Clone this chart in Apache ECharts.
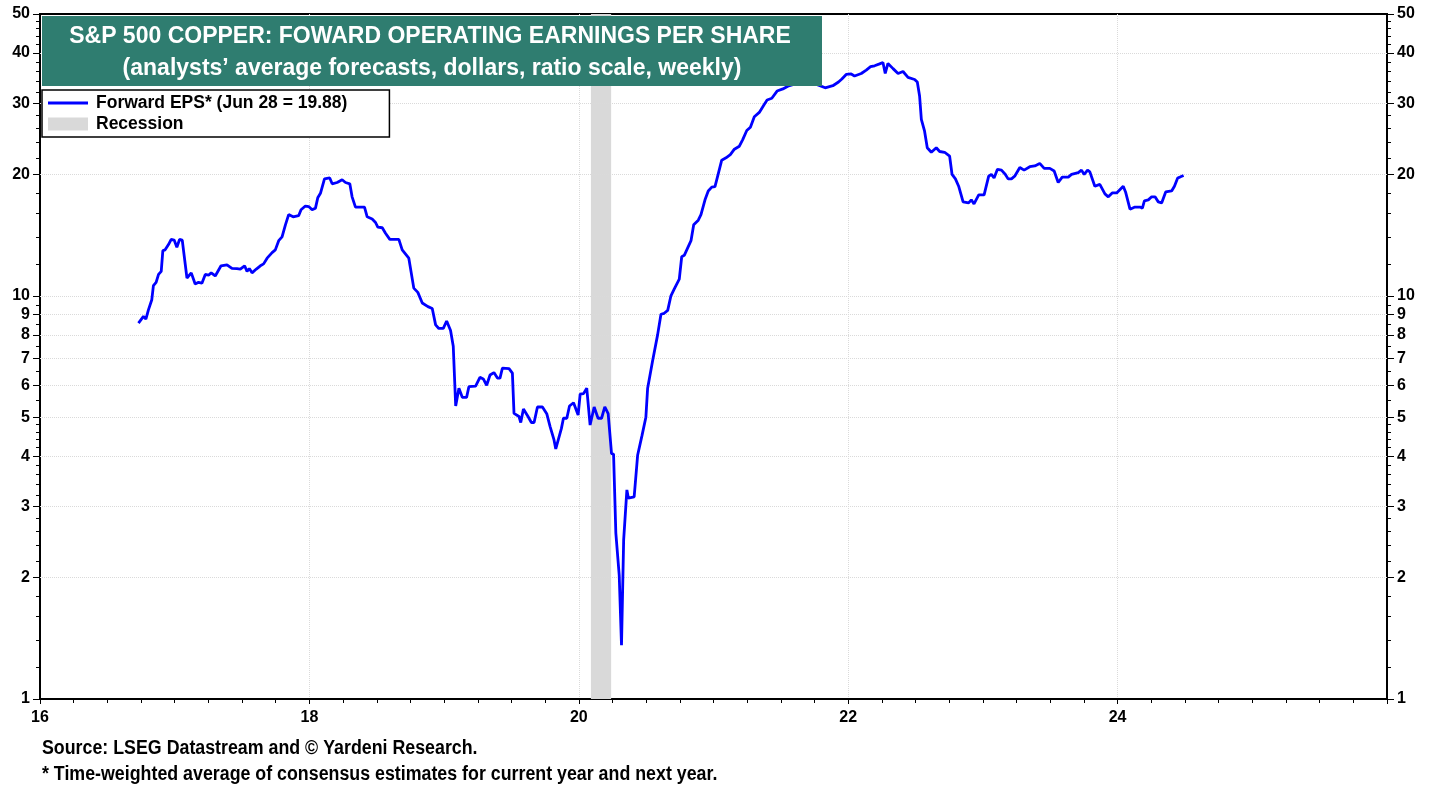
<!DOCTYPE html>
<html lang="en">
<head>
    <meta charset="UTF-8">
    <title>S&P 500 Copper: Forward EPS</title>
    <style>
        body {
            padding: 0;
            margin: 0;
            background-color: #FFFFFF;
            overflow: hidden;
        }
        #main_chart {
            width: 1438px;
            height: 787px;
        }
    </style>
</head>
<body>
<div id="main_chart"></div>
<script type="text/javascript" src="https://cdn.jsdelivr.net/npm/echarts@6/dist/echarts.min.js"></script>
<script type="text/javascript">
// decimal years (16.73 = late Sep 2016)
var dates = [
    16.731, 16.768, 16.786, 16.805, 16.830, 16.842, 16.862, 16.880, 16.900, 16.912,
    16.929, 16.954, 16.974, 16.996, 17.016, 17.036, 17.056, 17.091, 17.123, 17.152,
    17.177, 17.202, 17.227, 17.251, 17.271, 17.301, 17.344, 17.388, 17.425, 17.462,
    17.487, 17.519, 17.537, 17.554, 17.574, 17.606, 17.636, 17.660, 17.686, 17.723,
    17.747, 17.772, 17.797, 17.822, 17.846, 17.879, 17.920, 17.938, 17.970, 17.995,
    18.020, 18.045, 18.062, 18.082, 18.112, 18.119, 18.151, 18.169, 18.206, 18.243,
    18.268, 18.300, 18.317, 18.342, 18.409, 18.429, 18.466, 18.491, 18.508, 18.541,
    18.565, 18.597, 18.664, 18.689, 18.738, 18.775, 18.805, 18.838, 18.880, 18.912,
    18.937, 18.961, 18.994, 19.019, 19.048, 19.068, 19.086, 19.110, 19.135, 19.167,
    19.184, 19.234, 19.266, 19.291, 19.316, 19.341, 19.370, 19.396, 19.415, 19.433,
    19.482, 19.507, 19.519, 19.556, 19.569, 19.589, 19.623, 19.648, 19.668, 19.693,
    19.730, 19.762, 19.787, 19.816, 19.829, 19.842, 19.871, 19.886, 19.911, 19.931,
    19.961, 19.995, 20.010, 20.035, 20.059, 20.084, 20.114, 20.143, 20.169, 20.193,
    20.218, 20.243, 20.258, 20.275, 20.300, 20.317, 20.333, 20.357, 20.368, 20.411,
    20.437, 20.469, 20.498, 20.511, 20.548, 20.585, 20.610, 20.634, 20.660, 20.684,
    20.709, 20.746, 20.764, 20.783, 20.833, 20.853, 20.887, 20.907, 20.937, 20.961,
    20.987, 21.011, 21.031, 21.061, 21.093, 21.125, 21.155, 21.192, 21.217, 21.247,
    21.274, 21.303, 21.340, 21.373, 21.398, 21.433, 21.472, 21.515, 21.552, 21.589,
    21.640, 21.700, 21.770, 21.829, 21.886, 21.928, 21.953, 21.985, 22.022, 22.047,
    22.097, 22.134, 22.166, 22.196, 22.233, 22.258, 22.275, 22.295, 22.333, 22.370,
    22.407, 22.444, 22.493, 22.513, 22.530, 22.543, 22.567, 22.587, 22.617, 22.654,
    22.679, 22.716, 22.753, 22.771, 22.796, 22.820, 22.853, 22.894, 22.914, 22.934,
    22.969, 23.009, 23.043, 23.063, 23.083, 23.108, 23.138, 23.167, 23.187, 23.212,
    23.236, 23.274, 23.306, 23.348, 23.385, 23.422, 23.455, 23.497, 23.529, 23.559,
    23.589, 23.634, 23.658, 23.708, 23.732, 23.752, 23.777, 23.794, 23.831, 23.868,
    23.906, 23.931, 23.960, 23.993, 24.042, 24.059, 24.092, 24.104, 24.129, 24.166,
    24.184, 24.199, 24.228, 24.253, 24.278, 24.302, 24.327, 24.357, 24.401, 24.422,
    24.446, 24.463, 24.490
];

// forward operating EPS, dollars
var eps = [
    8.56, 8.89, 8.75, 9.23, 9.78, 10.6, 10.8, 11.3, 11.5, 12.95,
    13.0, 13.4, 13.8, 13.75, 13.2, 13.8, 13.75, 11.07, 11.4, 10.7,
    10.8, 10.75, 11.3, 11.25, 11.4, 11.2, 11.87, 11.94, 11.7, 11.68,
    11.65, 11.87, 11.5, 11.68, 11.4, 11.65, 11.87, 12.0, 12.4, 12.8,
    13.0, 13.7, 14.0, 15.0, 15.9, 15.7, 15.8, 16.35, 16.7, 16.65,
    16.35, 16.5, 17.5, 17.96, 19.5, 19.6, 19.6, 18.96, 19.1, 19.4,
    19.1, 18.96, 17.6, 16.6, 16.6, 15.7, 15.5, 15.2, 14.8, 14.75,
    14.3, 13.8, 13.8, 13.0, 12.4, 10.45, 10.2, 9.6, 9.4, 9.3,
    8.47, 8.3, 8.3, 8.66, 8.2, 7.5, 5.33, 5.9, 5.6, 5.6,
    5.95, 5.97, 6.28, 6.22, 6.0, 6.36, 6.45, 6.25, 6.25, 6.62,
    6.6, 6.43, 5.11, 5.02, 4.85, 5.24, 5.02, 4.85, 4.85, 5.3,
    5.3, 5.1, 4.74, 4.39, 4.17, 4.17, 4.69, 4.97, 4.97, 5.33,
    5.43, 5.06, 5.7, 5.72, 5.9, 4.78, 5.3, 4.97, 4.97, 5.3,
    5.1, 4.06, 4.05, 2.58, 2.03, 1.36, 2.48, 3.3, 3.15, 3.17,
    4.03, 4.5, 5.0, 5.9, 6.9, 8.0, 9.0, 9.05, 9.2, 10.0,
    10.4, 11.0, 12.5, 12.6, 13.7, 15.0, 15.4, 15.9, 17.3, 18.2,
    18.6, 18.65, 19.8, 21.7, 22.0, 22.4, 23.1, 23.5, 24.4, 25.7,
    26.2, 27.8, 28.5, 29.7, 30.6, 30.9, 32.2, 32.6, 33.1, 33.4,
    33.7, 33.9, 33.4, 32.8, 33.2, 33.9, 34.5, 35.4, 35.5, 35.1,
    35.6, 36.3, 37.0, 37.2, 37.6, 37.9, 35.6, 37.7, 36.6, 35.6,
    36.0, 34.8, 34.4, 33.9, 31.3, 27.4, 25.6, 23.3, 22.7, 23.3,
    22.8, 22.7, 22.2, 20.0, 19.5, 18.7, 17.1, 17.0, 17.3, 16.9,
    17.8, 17.8, 19.8, 20.0, 19.6, 20.6, 20.5, 20.0, 19.5, 19.5,
    19.8, 20.8, 20.5, 20.9, 21.0, 21.3, 20.7, 20.7, 20.4, 19.1,
    19.7, 19.7, 20.0, 20.2, 20.5, 20.0, 20.5, 20.3, 18.7, 18.9,
    17.9, 17.6, 18.0, 18.0, 18.7, 18.1, 16.4, 16.3, 16.6, 16.6,
    16.5, 17.2, 17.3, 17.6, 17.6, 17.1, 17.0, 18.1, 18.2, 18.7,
    19.6, 19.7, 19.88
];

// Feb 2020 - Apr 2020
var recession = [[20.09, 20.24]];

var yTicks = [1, 2, 3, 4, 5, 6, 7, 8, 9, 10, 20, 30, 40, 50];
var yGrid = [2, 3, 4, 5, 6, 7, 8, 9, 10, 20, 30, 40];
var yMinorTicks = [
    1.2, 1.4, 1.6, 1.8, 2.2, 2.4, 2.6, 2.8, 3.2, 3.4, 3.6, 3.8,
    4.2, 4.4, 4.6, 4.8, 5.5, 6.5, 7.5, 8.5, 9.5,
    12, 14, 16, 18, 22, 24, 26, 28, 32, 34, 36, 38, 42, 44, 46, 48
];

var lineName = 'Forward EPS* (Jun 28 = 19.88)';
var font = '"Liberation Sans", Arial, sans-serif';

var seriesData = dates.map(function (d, i) { return [d, eps[i]]; });

var yAxisBase = function (pos) {
    return {
        type: 'log',
        logBase: 10,
        min: 1,
        max: 50,
        position: pos,
        axisLine: { show: true, lineStyle: { color: '#000', width: 2 } },
        axisTick: { show: true, length: 7, customValues: yTicks, lineStyle: { color: '#000', width: 1 } },
        axisLabel: {
            customValues: yTicks,
            color: '#000',
            fontWeight: 'bold',
            fontSize: 16,
            fontFamily: font,
            margin: 10
        },
        splitLine: { show: false }
    };
};

var yMinorAxis = function (pos) {
    return {
        type: 'log',
        logBase: 10,
        min: 1,
        max: 50,
        position: pos,
        axisLine: { show: false },
        axisTick: { show: true, length: 4, customValues: yMinorTicks, lineStyle: { color: '#000', width: 1 } },
        axisLabel: { show: false },
        splitLine: { show: false }
    };
};

var option = {
    animation: false,
    backgroundColor: '#fff',
    grid: {
        left: 40,
        right: 51,
        top: 14,
        bottom: 88,
        show: true,
        borderColor: '#000',
        borderWidth: 2
    },
    legend: {
        orient: 'vertical',
        left: 42,
        top: 90,
        padding: [4, 42, 4, 6],
        itemGap: 3,
        itemWidth: 40,
        itemHeight: 13,
        backgroundColor: '#fff',
        borderColor: '#000',
        borderWidth: 1.5,
        borderRadius: 0,
        selectedMode: false,
        textStyle: { color: '#000', fontWeight: 'bold', fontSize: 17.5, fontFamily: font, padding: [0, 0, 0, 3] },
        data: [
            { name: lineName, icon: 'path://M0,0 L40,0 L40,3 L0,3 Z' },
            { name: 'Recession', icon: 'rect' }
        ],
        z: 20
    },
    xAxis: {
        type: 'value',
        min: 16,
        max: 26,
        interval: 2,
        axisLine: { onZero: false, lineStyle: { color: '#000', width: 2 } },
        axisTick: { show: true, inside: false, length: 5, lineStyle: { color: '#000' } },
        minorTick: { show: true, splitNumber: 8, length: 4, lineStyle: { color: '#000' } },
        axisLabel: {
            color: '#000',
            fontWeight: 'bold',
            fontSize: 16,
            fontFamily: font,
            margin: 11,
            formatter: function (v) { return v >= 26 ? '' : String(v); }
        },
        splitLine: { show: true, lineStyle: { color: '#dadada', type: 'dotted', width: 1 } }
    },
    yAxis: [yAxisBase('left'), yAxisBase('right'), yMinorAxis('left'), yMinorAxis('right')],
    graphic: [
        {
            type: 'rect',
            left: 42,
            top: 16,
            z: 50,
            shape: { width: 780, height: 70 },
            style: { fill: '#2f7d70' }
        },
        {
            type: 'text',
            x: 430,
            y: 37,
            z: 51,
            style: {
                text: 'S&P 500 COPPER: FOWARD OPERATING EARNINGS PER SHARE',
                fill: '#fff',
                font: 'bold 23px ' + font,
                align: 'center',
                verticalAlign: 'middle'
            }
        },
        {
            type: 'text',
            x: 432,
            y: 69,
            z: 51,
            style: {
                text: '(analysts\u2019 average forecasts, dollars, ratio scale, weekly)',
                fill: '#fff',
                font: 'bold 23px ' + font,
                align: 'center',
                verticalAlign: 'middle'
            }
        },
        {
            type: 'text',
            x: 42,
            y: 748,
            scaleX: 0.89,
            style: {
                text: 'Source: LSEG Datastream and \u00a9 Yardeni Research.',
                fill: '#000',
                font: 'bold 20px ' + font,
                verticalAlign: 'middle'
            }
        },
        {
            type: 'text',
            x: 42,
            y: 774,
            scaleX: 0.89,
            style: {
                text: '* Time-weighted average of consensus estimates for current year and next year.',
                fill: '#000',
                font: 'bold 20px ' + font,
                verticalAlign: 'middle'
            }
        }
    ],
    series: [
        {
            name: 'Recession',
            type: 'line',
            data: [],
            color: '#d9d9d9',
            silent: true,
            markArea: {
                silent: true,
                itemStyle: { color: '#d9d9d9' },
                data: recession.map(function (r) {
                    return [{ xAxis: r[0] }, { xAxis: r[1] }];
                })
            },
            markLine: {
                silent: true,
                symbol: 'none',
                label: { show: false },
                lineStyle: { color: '#dadada', type: 'dotted', width: 1 },
                data: yGrid.map(function (v) { return { yAxis: v }; })
            },
            z: 1
        },
        {
            name: lineName,
            type: 'line',
            data: seriesData,
            showSymbol: false,
            symbol: 'none',
            color: '#0000ff',
            lineStyle: { color: '#0000ff', width: 2.8 },
            z: 5
        }
    ]
};

var chart = echarts.init(document.getElementById('main_chart'));
chart.setOption(option);
</script>
</body>
</html>
